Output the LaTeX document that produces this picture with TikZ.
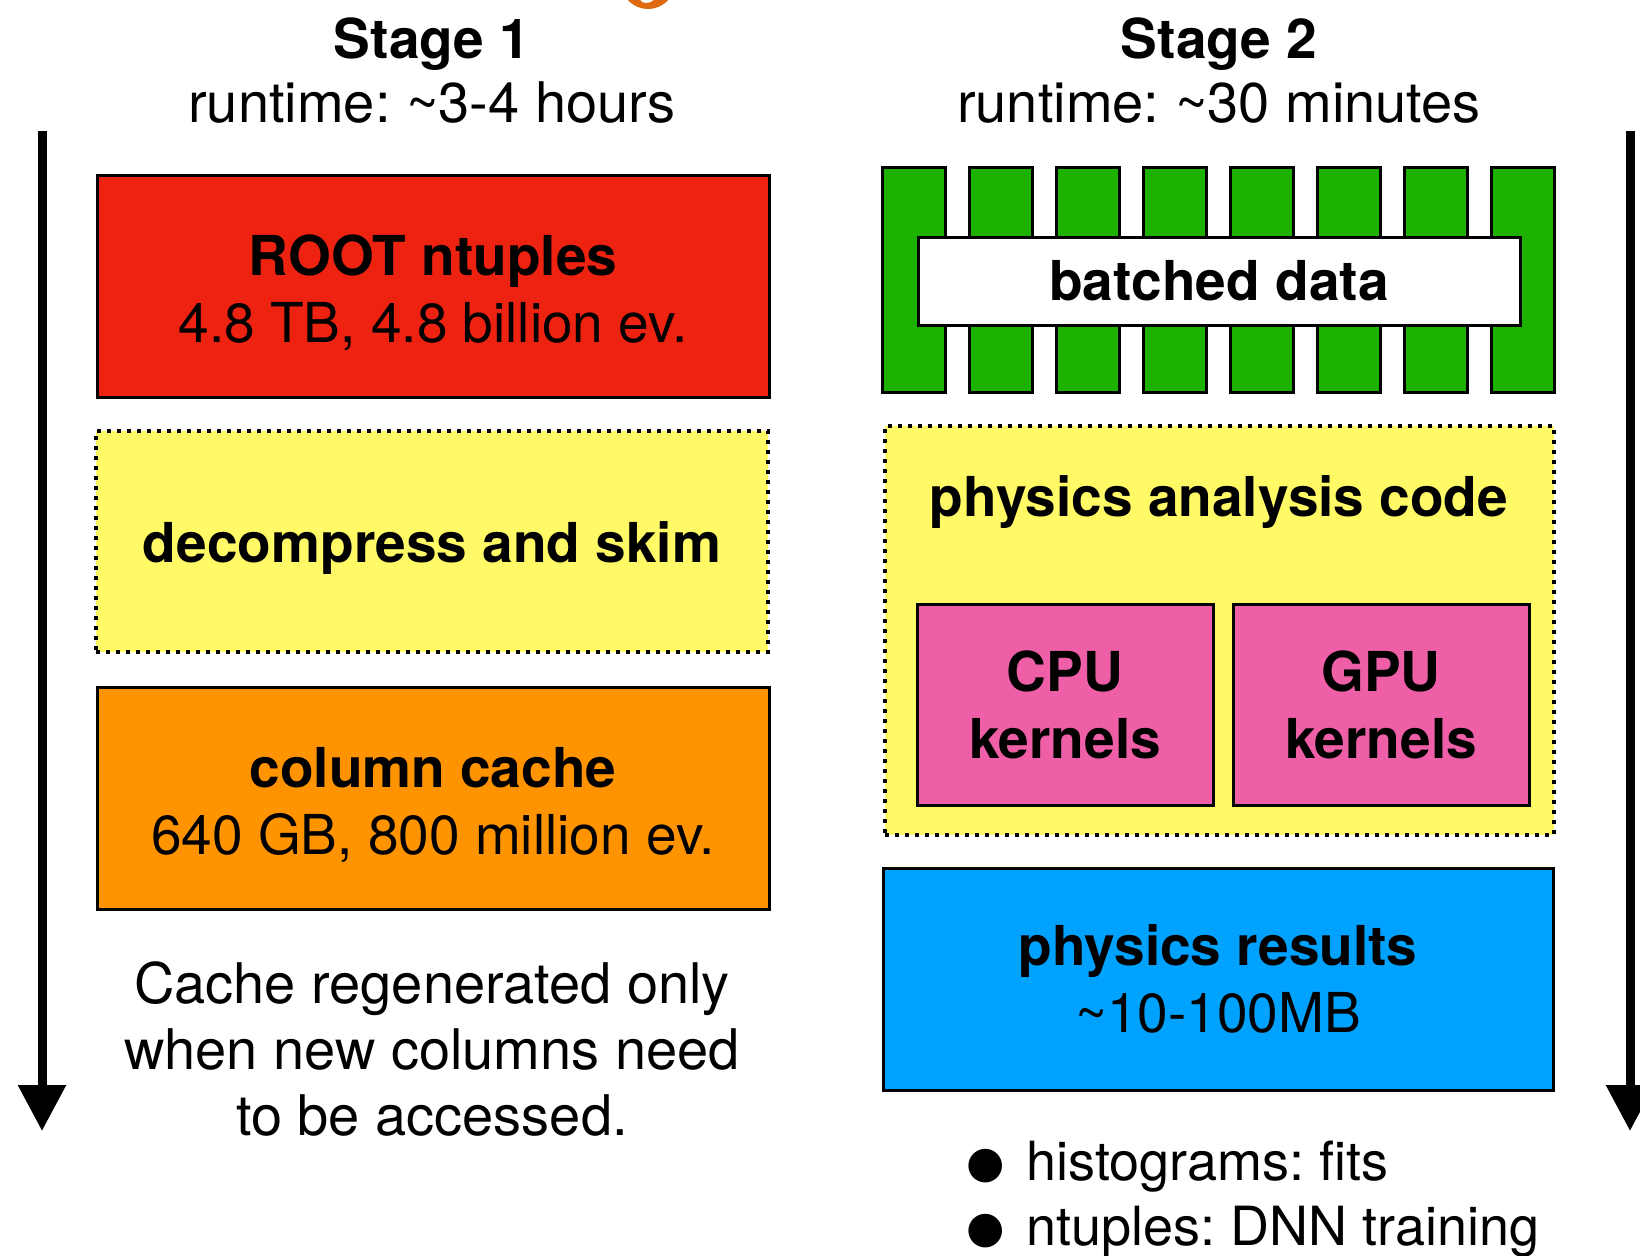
\documentclass[tikz,border=0pt]{standalone}
\usepackage{fontspec}
\setmainfont{TeX Gyre Heros}
\newfontfamily\bulletfont{DejaVu Sans}
\usetikzlibrary{arrows.meta}
\definecolor{rootred}{HTML}{EE2211}
\definecolor{skimyellow}{HTML}{FFFA66}
\definecolor{cacheorange}{HTML}{FF9300}
\definecolor{batchgreen}{HTML}{1DB100}
\definecolor{kernelpink}{HTML}{EF5FA7}
\definecolor{resultblue}{HTML}{00A2FF}
\definecolor{titleorange}{HTML}{E06A12}
\newcommand{\boxline}{1.5pt}
\newcommand{\boxfont}{\fontsize{27.5}{33.5}\selectfont}
\newcommand{\notefont}{\fontsize{28}{33}\selectfont}
\newcommand{\bigdot}{\raisebox{1.5pt}{\bulletfont\fontsize{22}{24}\selectfont ●}}
\newcommand{\lift}{\rule{0pt}{27pt}}
\frenchspacing

\begin{document}
\begin{tikzpicture}[x=0.5pt, y=-0.5pt,
  box/.style={draw, line width=\boxline, minimum width=336pt, minimum height=111pt,
    inner sep=0pt, align=center, font=\boxfont},
  dotbox/.style={box, line width=2pt, dash pattern=on 2pt off 3pt},
  kernel/.style={box, fill=kernelpink, minimum width=148pt, minimum height=100.5pt, font=\boxfont\bfseries},
  bar/.style={draw, fill=batchgreen, line width=\boxline, minimum width=31.5pt, minimum height=112.5pt, inner sep=0pt},
  flow/.style={line width=4.5pt, -{Triangle[width=23pt, length=23pt]}}]
\useasboundingbox (0,0) rectangle (1640,1255);
% cut off title
\fill[titleorange] (628,0) .. controls (638,12) and (658,12) .. (668,0) -- (654,0) .. controls (650,4) and (642,4) .. (640,0) -- cycle;
% headings
\node[anchor=base, font=\fontsize{27.5}{33}\selectfont\bfseries] (stage1) at (432,58) {Stage 1};
\node[anchor=base, font=\fontsize{28}{33}\selectfont] (time1) at (432,122) {runtime: \textasciitilde3-4 hours};
\node[anchor=base, font=\fontsize{27.5}{33}\selectfont\bfseries] (stage2) at (1219,58) {Stage 2};
\node[anchor=base, font=\fontsize{28}{33}\selectfont] (time2) at (1219,122) {runtime: \textasciitilde30 minutes};
% time arrows
\coordinate (ltop) at (42,131);
\coordinate (lbot) at (42,1131);
\coordinate (rtop) at (1630,131);
\coordinate (rbot) at (1630,1131);
\draw[flow] (ltop) -- (lbot);
\draw[flow] (rtop) -- (rbot);
% stage 1
\node[box, fill=rootred] (root) at (433,286) {\lift{\bfseries ROOT ntuples}\\4.8 TB, 4.8 billion ev.};
\node[dotbox, fill=skimyellow, font=\boxfont\bfseries, minimum height=110.5pt] (skim) at (432,541.5) {\lift decompress and skim};
\node[box, fill=cacheorange] (cache) at (433,798.5) {\lift{\bfseries column cache}\\640 GB, 800 million ev.};
\node[align=center, font=\notefont] (note) at (432,1049) {Cache regenerated only\\when new columns need\\to be accessed.};
% stage 2
\node[bar] (b1) at (913.5,279.5) {};
\node[bar] (b2) at (1000.6,279.5) {};
\node[bar] (b3) at (1087.7,279.5) {};
\node[bar] (b4) at (1174.8,279.5) {};
\node[bar] (b5) at (1261.9,279.5) {};
\node[bar] (b6) at (1349.0,279.5) {};
\node[bar] (b7) at (1436.1,279.5) {};
\node[bar] (b8) at (1523.2,279.5) {};
\node[box, fill=white, minimum width=301pt, minimum height=44pt, font=\boxfont\bfseries] (batch) at (1219,281) {batched data};
\node[dotbox, fill=skimyellow, minimum width=334.5pt, minimum height=204.5pt] (analysis) at (1219.5,630.5) {};
\node[font=\boxfont\bfseries] (code) at (1219,502) {physics analysis code};
\node[kernel] (cpu) at (1065,704.5) {CPU\\kernels};
\node[kernel] (gpu) at (1381,704.5) {GPU\\kernels};
\node[box, fill=resultblue, minimum width=335pt] (results) at (1218,979) {{\bfseries physics results}\\\textasciitilde10-100MB};
\node[anchor=base west, font=\fontsize{27}{33}\selectfont] (hist) at (959,1180) {\bigdot\hspace{11pt}histograms: fits};
\node[anchor=base west, font=\fontsize{27}{33}\selectfont] (dnn) at (959,1245) {\bigdot\hspace{11pt}ntuples: DNN training};
\end{tikzpicture}
\end{document}
